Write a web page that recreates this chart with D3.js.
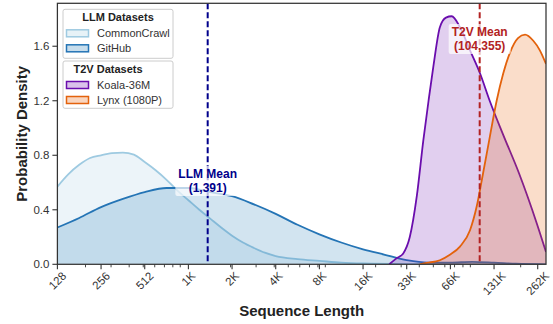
<!DOCTYPE html>
<html><head><meta charset="utf-8">
<script src="https://cdn.jsdelivr.net/npm/d3@7"></script>
<style>body{margin:0;background:#fff;} svg{display:block;font-family:"Liberation Sans",Arial,Helvetica,sans-serif;}</style>
</head><body><svg id="c" width="553" height="324"></svg>
<script>
// ---------- data ----------
const xTickValues = [128,256,512,1024,2048,4096,8192,16384,32768,65536,131072,262144];
const xTickLabels = ["128","256","512","1K","2K","4K","8K","16K","33K","66K","131K","262K"];
const xMinorTicks = [200,300,400,500,600,700,800,900,2000,3000,4000,5000,6000,7000,8000,9000,
                     20000,30000,40000,50000,60000,70000,80000,90000,200000];
const yTickValues = [0,0.4,0.8,1.2,1.6];
const yTickLabels = ["0.0","0.4","0.8","1.2","1.6"];

const ccLen = [128,152,181,215,256,304,362,431,512,609,724,861,1024,1218,1448,1722,2048,2435,2896,3444,4096,5793,8192,11585,16384,32768,65536,131072,299000];
const ccDen = [0.57,0.66,0.73,0.78,0.80,0.815,0.82,0.805,0.75,0.69,0.62,0.54,0.47,0.40,0.335,0.27,0.21,0.16,0.12,0.085,0.06,0.038,0.025,0.012,0.006,0.002,0.001,0,0];

const ghLen = [128,181,256,362,512,724,1024,1448,2048,2896,4096,5793,8192,11585,16384,23170,32768,46341,65536,92682,131072,185364,299000];
const ghDen = [0.27,0.34,0.42,0.48,0.53,0.56,0.56,0.53,0.50,0.44,0.37,0.29,0.22,0.16,0.11,0.07,0.03,0.012,0.012,0.018,0.012,0.004,0];

const koLen = [24834,27554,31000,34400,38450,42650,46341,50000,55470,61100,66900,76300,89500,105000,122300,151600,194500,258400,299000];
const koDen = [0,0.04,0.08,0.20,0.50,0.91,1.2,1.45,1.74,1.81,1.82,1.74,1.57,1.40,1.20,0.95,0.67,0.30,0.09];

const lyLen = [40300,45000,55470,65000,76300,89500,99300,110200,122300,136600,151600,168300,191700,214300,244400,271200,299000];
const lyDen = [0,0.01,0.03,0.07,0.13,0.25,0.42,0.67,0.93,1.20,1.40,1.55,1.66,1.685,1.64,1.57,1.47];

const llmMean = 1391, t2vMean = 104355;

// ---------- layout ----------
const svg = d3.select("#c");
const L = 57.4, R = 546, T = 3.3, B = 264.3;
const x = d3.scaleLog().base(2).domain([128, 299000]).range([L, R]);
const y = d3.scaleLinear().domain([0, 1.915]).range([B, T]);

svg.append("defs").append("clipPath").attr("id","clip")
  .append("rect").attr("x",L).attr("y",T).attr("width",R-L).attr("height",B-T);

const series = [
  {name:"CommonCrawl", len:ccLen, den:ccDen, line:"#9ecae1", fill:"#9ecae1", op:0.2},
  {name:"GitHub", len:ghLen, den:ghDen, line:"#2474b5", fill:"#1f78b4", op:0.2},
  {name:"Koala-36M", len:koLen, den:koDen, line:"#6a0dad", fill:"#6a0dad", op:0.2},
  {name:"Lynx (1080P)", len:lyLen, den:lyDen, line:"#e3620c", fill:"#e8640f", op:0.22}
];

const g = svg.append("g").attr("clip-path","url(#clip)");
series.forEach(s => {
  const pts = s.len.map((v,i)=>[v, s.den[i]]);
  const area = d3.area().x(d=>x(d[0])).y0(y(0)).y1(d=>y(d[1])).curve(d3.curveMonotoneX);
  const line = d3.line().x(d=>x(d[0])).y(d=>y(d[1])).curve(d3.curveMonotoneX);
  g.append("path").attr("d", area(pts)).attr("fill", s.fill).attr("fill-opacity", s.op);
  g.append("path").attr("d", line(pts)).attr("fill","none").attr("stroke", s.line).attr("stroke-width",1.8);
});

// mean lines
g.append("line").attr("x1",x(llmMean)).attr("x2",x(llmMean)).attr("y1",T).attr("y2",B)
  .attr("stroke","#00008b").attr("stroke-width",2).attr("stroke-dasharray","6,3");
g.append("line").attr("x1",x(t2vMean)).attr("x2",x(t2vMean)).attr("y1",T).attr("y2",B)
  .attr("stroke","#b22222").attr("stroke-width",2).attr("stroke-dasharray","6,3");

function meanLabel(xv, ytop, lines, color){
  const cx = x(xv);
  const gg = svg.append("g");
  const rect = gg.append("rect").attr("fill","#fff").attr("fill-opacity",0.7).attr("rx",2);
  const t = gg.append("text").attr("text-anchor","middle").attr("fill",color)
    .attr("font-size",12).attr("font-weight","bold");
  lines.forEach((ln,i)=>t.append("tspan").attr("x",cx).attr("y",ytop+11+i*14).text(ln));
  const bb = t.node().getBBox();
  rect.attr("x",bb.x-3).attr("y",bb.y-1).attr("width",bb.width+6).attr("height",bb.height+2);
}
meanLabel(llmMean, 167, ["LLM Mean","(1,391)"], "#00008b");
meanLabel(t2vMean, 25, ["T2V Mean","(104,355)"], "#b22222");

// frame
svg.append("rect").attr("x",L).attr("y",T).attr("width",R-L).attr("height",B-T)
  .attr("fill","none").attr("stroke","#333").attr("stroke-width",1.25);

// x ticks
const ax = svg.append("g");
xMinorTicks.forEach(v=>{
  ax.append("line").attr("x1",x(v)).attr("x2",x(v)).attr("y1",B).attr("y2",B+3)
    .attr("stroke","#333").attr("stroke-width",0.9);
});
xTickValues.forEach((v,i)=>{
  ax.append("line").attr("x1",x(v)).attr("x2",x(v)).attr("y1",B).attr("y2",B+5)
    .attr("stroke","#333").attr("stroke-width",1.1);
  const t = ax.append("text").attr("font-size",11.5).attr("fill","#333")
    .attr("text-anchor","middle").attr("dominant-baseline","central").text(xTickLabels[i]);
  const w = t.node().getComputedTextLength();
  const cy = 271 + 0.7071*(w+8)/2;
  t.attr("transform",`translate(${x(v)},${cy}) rotate(-45)`);
});
// y ticks
yTickValues.forEach((v,i)=>{
  ax.append("line").attr("x1",L-5).attr("x2",L).attr("y1",y(v)).attr("y2",y(v))
    .attr("stroke","#333").attr("stroke-width",1.1);
  ax.append("text").attr("x",L-8).attr("y",y(v)+4).attr("text-anchor","end")
    .attr("font-size",11.5).attr("fill","#333").text(yTickLabels[i]);
});

// axis titles
svg.append("text").attr("x",(L+R)/2).attr("y",316).attr("text-anchor","middle")
  .attr("font-size",15).attr("font-weight","bold").attr("fill","#222").text("Sequence Length");
svg.append("text").attr("transform",`translate(27,${(T+B)/2}) rotate(-90)`).attr("text-anchor","middle")
  .attr("font-size",15).attr("font-weight","bold").attr("fill","#222").text("Probability Density");

// legends
function legend(y0, h, title, titleX, items){
  const lg = svg.append("g");
  lg.append("rect").attr("x",63).attr("y",y0).attr("width",110).attr("height",h)
    .attr("fill","#fff").attr("fill-opacity",0.9).attr("stroke","#ccc").attr("stroke-width",1).attr("rx",2);
  lg.append("text").attr("x",titleX).attr("y",y0+12).attr("text-anchor","middle")
    .attr("font-size",11).attr("font-weight","bold").attr("fill","#222").text(title);
  items.forEach((s,i)=>{
    const cy = y0 + 24 + i*15;
    lg.append("rect").attr("x",66.5).attr("y",cy-3.5).attr("width",22).attr("height",7)
      .attr("fill","#fff");
    lg.append("rect").attr("x",66.5).attr("y",cy-3.5).attr("width",22).attr("height",7)
      .attr("fill",s.fill).attr("fill-opacity",s.op+0.05).attr("stroke",s.line).attr("stroke-width",1.5);
    lg.append("text").attr("x",97).attr("y",cy+4).attr("font-size",11).attr("fill","#333").text(s.name);
  });
}
legend(9.3, 49, "LLM Datasets", 118, [series[0],series[1]]);
legend(61, 47.3, "T2V Datasets", 108, [series[2],series[3]]);
</script></body></html>
